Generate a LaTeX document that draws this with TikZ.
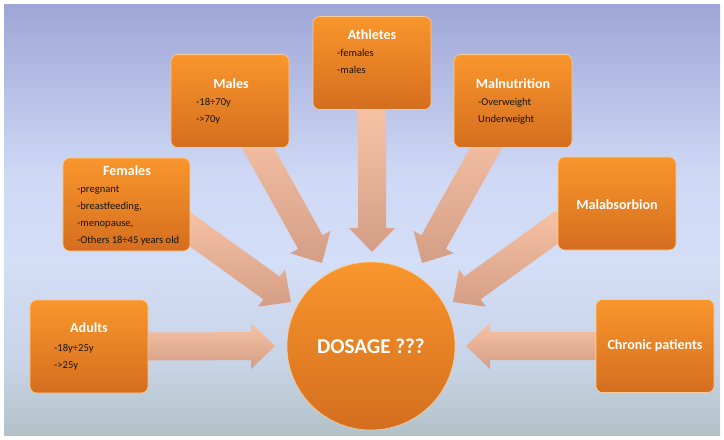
\documentclass[tikz,border=0pt]{standalone}
\usepackage{fontspec}
\setmainfont{Carlito}
\usepackage{tikz}
\usetikzlibrary{calc}

\definecolor{boxtop}{RGB}{249,150,44}
\definecolor{boxbot}{RGB}{212,110,31}
\definecolor{boxrim}{RGB}{250,205,150}
\definecolor{arrtop}{RGB}{247,194,164}
\definecolor{arrbot}{RGB}{212,158,134}
\definecolor{bodytext}{RGB}{25,20,15}

% background: lavender at the top, light blue, grey-blue at the bottom
\pgfdeclareverticalshading{backdrop}{100bp}{
  rgb(0bp)=(0.70,0.76,0.78);
  rgb(25bp)=(0.70,0.76,0.78);
  rgb(33bp)=(0.78,0.83,0.90);
  rgb(45bp)=(0.83,0.87,0.97);
  rgb(55bp)=(0.81,0.85,0.96);
  rgb(75bp)=(0.62,0.65,0.84);
  rgb(100bp)=(0.62,0.65,0.84)}

\pgfdeclarelayer{back}
\pgfdeclarelayer{mid}
\pgfsetlayers{back,mid,main}

% fat block arrow from #1 (tail) to #2 (tip)
\newcommand{\fatarrow}[2]{%
  \coordinate (#2base) at ($(#2)!0.72cm!(#1)$);
  \path[arrowfill] ($(#1)!0.42cm!90:(#2)$)
    -- ($(#2base)!0.42cm!90:(#2)$) -- ($(#2base)!0.69cm!90:(#2)$)
    -- (#2)
    -- ($(#2base)!0.69cm!-90:(#2)$) -- ($(#2base)!0.42cm!-90:(#2)$)
    -- ($(#1)!0.42cm!-90:(#2)$) -- cycle;
}

\begin{document}
\begin{tikzpicture}[x=0.03cm,y=-0.03cm,
  arrowfill/.style={top color=arrtop, bottom color=arrbot},
  catbox/.style={rectangle, rounded corners=0.2cm, minimum width=3.54cm,
    minimum height=2.79cm, top color=boxtop, bottom color=boxbot,
    draw=boxrim, line width=0.5pt},
  cattitle/.style={text=white, font=\fontsize{12}{14}\selectfont\bfseries},
  catbody/.style={anchor=north west, align=left, inner sep=0pt,
    text=bodytext, font=\fontsize{9}{14.5}\selectfont}]

\useasboundingbox (0,0) rectangle (724,439);

% Background
\begin{pgfonlayer}{back}
\fill[white] (0,0) rectangle (724,439);
\shade[shading=backdrop] (4,4) rectangle (720,435);
\end{pgfonlayer}

% Boxes
\node[catbox] (adults) at (89,346.5) {};
\node[catbox, minimum width=3.81cm] (females) at (126.5,204.5) {};
\node[catbox] (males) at (230,101) {};
\node[catbox] (athletes) at (372,63) {};
\node[catbox] (malnutrition) at (513,101) {};
\node[catbox] (malabsorbion) at (617,203.5) {};
\node[catbox] (chronic) at (655,346) {};

% Centre circle
\node[circle, minimum size=5.04cm, inner sep=0pt, top color=boxtop,
  bottom color=boxbot, draw=boxrim, line width=0.5pt, text=white,
  font=\fontsize{18}{21}\selectfont\bfseries] (dose) at (371,346) {DOSAGE ???};

% Arrow ends
\coordinate (adultsTip) at (275,346);
\coordinate (chronicTip) at (466,346);
\coordinate (athletesTip) at (372,252);
\coordinate (malesTail) at (248,130);
\coordinate (malesTip) at (322,263);
\coordinate (femalesTail) at (180,222);
\coordinate (femalesTip) at (291,302);
\coordinate (malnutritionTail) at (496,130);
\coordinate (malnutritionTip) at (422,263);
\coordinate (malabsorbionTail) at (564,222);
\coordinate (malabsorbionTip) at (453,302);

% Arrows (behind the boxes)
\begin{pgfonlayer}{mid}
\fatarrow{adults.east}{adultsTip}
\fatarrow{chronic.west}{chronicTip}
\fatarrow{athletes.south}{athletesTip}
\fatarrow{malesTail}{malesTip}
\fatarrow{femalesTail}{femalesTip}
\fatarrow{malnutritionTail}{malnutritionTip}
\fatarrow{malabsorbionTail}{malabsorbionTip}
\end{pgfonlayer}

% Texts
\node[cattitle] (adultsT) at (89,328) {Adults};
\node[catbody] (adultsB) at (54,344) {-18y÷25y\\->25y};

\node[cattitle] (femalesT) at (127,171) {Females};
\node[catbody] (femalesB) at (77,186)
  {-pregnant\\-breastfeeding,\\-menopause,\\-Others 18÷45 years old};

\node[cattitle] (malesT) at (231,84) {Males};
\node[catbody] (malesB) at (196,98) {-18÷70y\\->70y};

\node[cattitle] (athletesT) at (372,35) {Athletes};
\node[catbody] (athletesB) at (337,49) {-females\\-males};

\node[cattitle] (malnutritionT) at (513,84) {Malnutrition};
\node[catbody] (malnutritionB) at (478,98) {-Overweight\\Underweight};

\node[cattitle] (malabsorbionT) at (617,205) {Malabsorbion};

\node[cattitle] (chronicT) at (655,346) {Chronic patients};

\end{tikzpicture}
\end{document}
